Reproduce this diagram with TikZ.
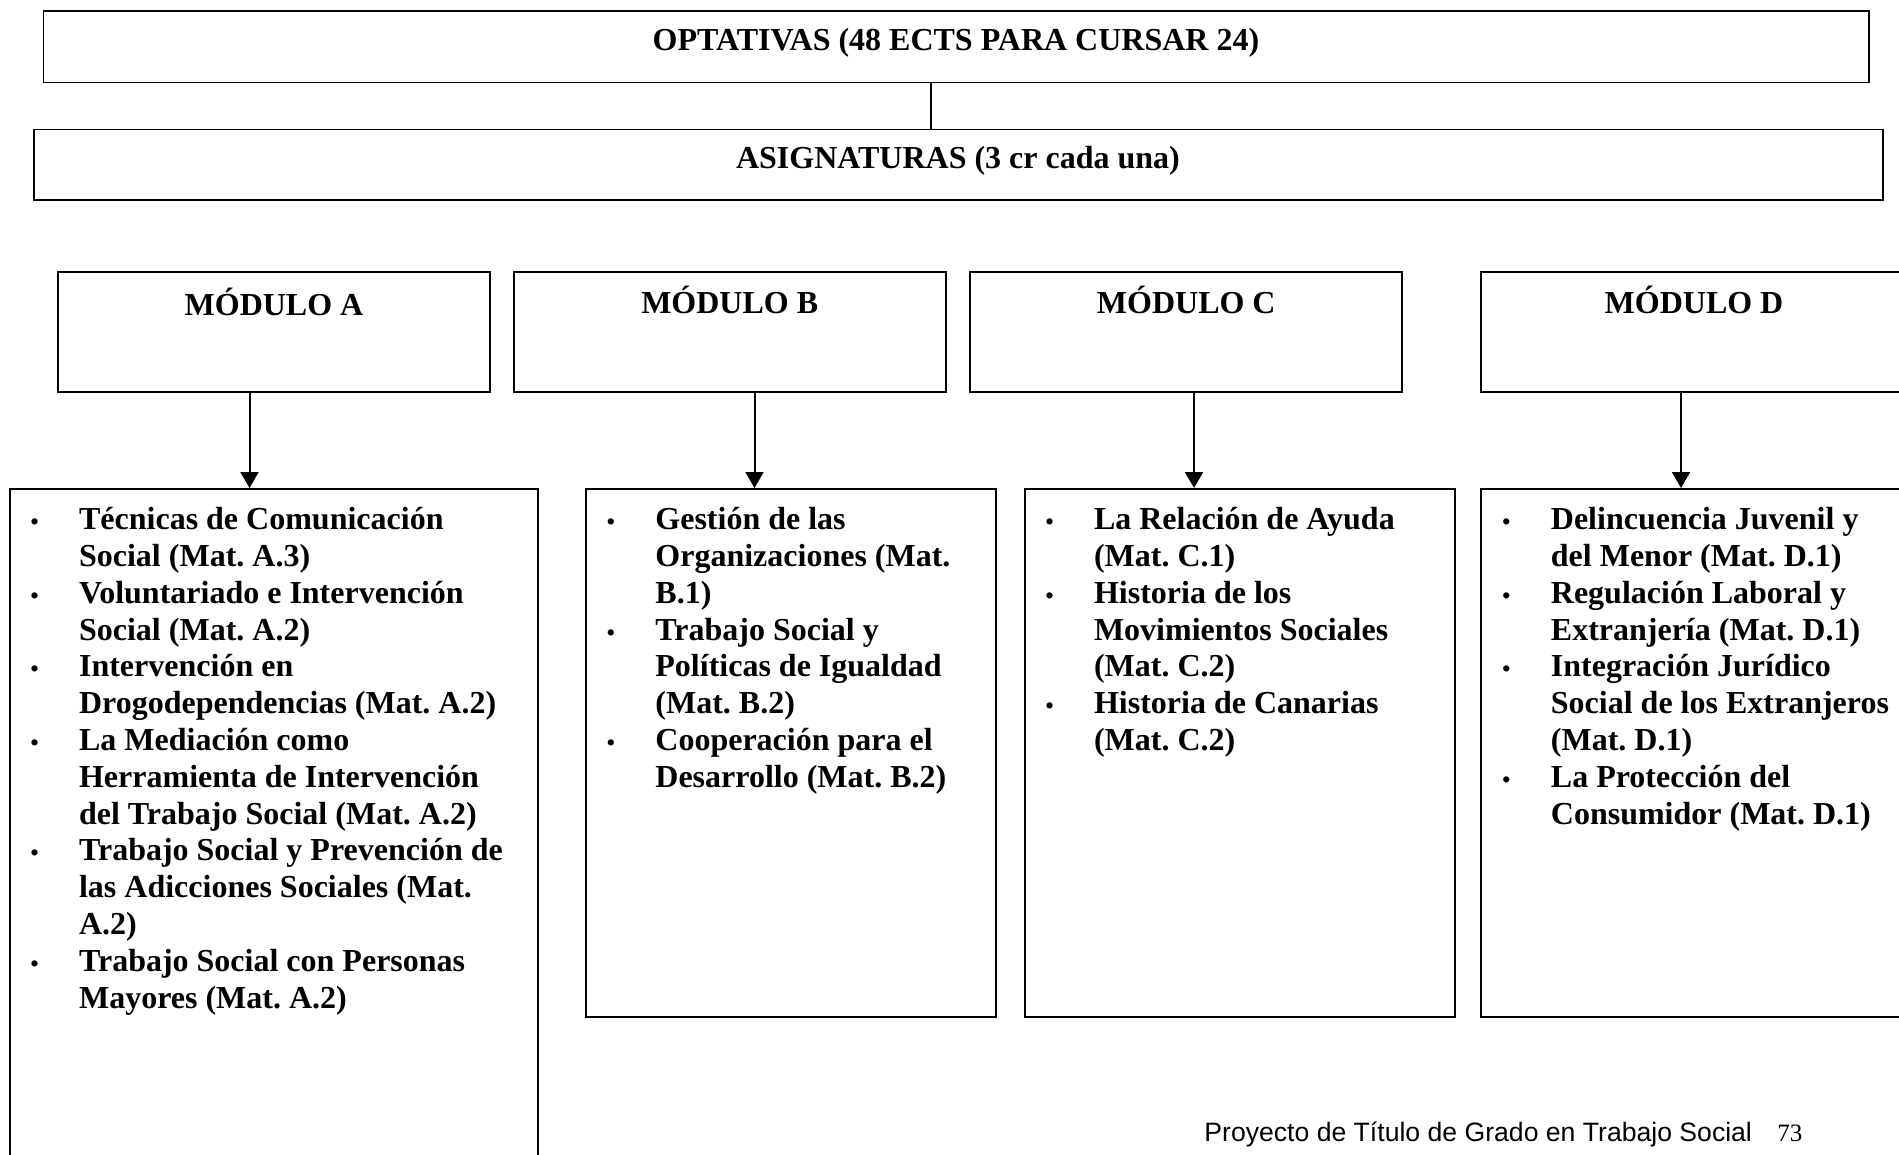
\documentclass[tikz,border=0pt]{standalone}
\usepackage{fontspec}
\setmainfont{Liberation Serif}
\newfontfamily\footsans{Liberation Sans}
\usetikzlibrary{arrows.meta}
\frenchspacing
\newcommand{\blt}{\makebox[22.75pt][l]{\hspace*{-1.5pt}{\fontsize{11.5pt}{11.5pt}\selectfont\raisebox{0pt}{\textbullet}}}}
\begin{document}
\begin{tikzpicture}[x=0.5pt,y=-0.5pt,
  box/.style={draw=black, line width=1pt, rectangle, inner sep=0pt},
  thinbox/.style={draw=black, line width=0.8pt, rectangle, inner sep=0pt},
  head/.style={inner sep=0pt, font=\fontsize{16pt}{18.4pt}\selectfont\bfseries\frenchspacing},
  listtext/.style={inner sep=0pt, align=left, font=\fontsize{16pt}{18.4pt}\selectfont\bfseries\frenchspacing},
  arr/.style={line width=1pt, -{Triangle[length=8pt,width=9pt]}},
  link/.style={line width=0.6pt}]
\clip (0,0) rectangle (1899,1155);
\fill[white] (0,0) rectangle (1899,1155);

% top boxes
\node[thinbox, minimum width=912.6pt, minimum height=35.75pt] (opt) at (956.2,46.65) {};
\node[thinbox, minimum width=924.55pt, minimum height=35.1pt] (asig) at (958.45,164.7) {};
\node[head, anchor=base] (tOpt) at (956,50.6) {OPTATIVAS (48 ECTS PARA CURSAR 24)};
\node[head, anchor=base] (tAsig) at (958,169) {ASIGNATURAS (3 cr cada una)};
\coordinate (c1) at (931,0);
\draw[link] (opt.south -| c1) -- (asig.north -| c1);

% module boxes
\node[box, minimum width=216pt, minimum height=60pt] (modA) at (274,332.45) {};
\node[box, minimum width=216.2pt, minimum height=60pt] (modB) at (729.7,332.45) {};
\node[box, minimum width=216.2pt, minimum height=60pt] (modC) at (1186.25,332.45) {};
\node[box, minimum width=216pt, minimum height=60pt] (modD) at (1697,332.45) {};
\node[head, anchor=base] (tA) at (274,315.6) {MÓDULO A};
\node[head, anchor=base] (tB) at (729.7,313.4) {MÓDULO B};
\node[head, anchor=base] (tC) at (1186.25,313.4) {MÓDULO C};
\node[head, anchor=base] (tD) at (1694,313.4) {MÓDULO D};

% list boxes
\node[box, minimum width=264pt, minimum height=340.5pt] (listA) at (273.7,829.5) {};
\node[box, minimum width=204.75pt, minimum height=264pt] (listB) at (790.75,753) {};
\node[box, minimum width=214.95pt, minimum height=264pt] (listC) at (1239.55,753) {};
\node[box, minimum width=219.5pt, minimum height=264pt] (listD) at (1700.5,753) {};

% arrows
\coordinate (aA) at (249.5,0);
\coordinate (aB) at (754.5,0);
\coordinate (aC) at (1194,0);
\coordinate (aD) at (1681,0);
\draw[arr] (modA.south -| aA) -- (listA.north -| aA);
\draw[arr] (modB.south -| aB) -- (listB.north -| aB);
\draw[arr] (modC.south -| aC) -- (listC.north -| aC);
\draw[arr] (modD.south -| aD) -- (listD.north -| aD);

% list texts
\node[listtext, anchor=base west] (txA) at (33.2,529.6) {\begin{tabular}[t]{@{}l@{}l@{}}
\blt & Técnicas de Comunicación\\
 & Social (Mat. A.3)\\
\blt & Voluntariado e Intervención\\
 & Social (Mat. A.2)\\
\blt & Intervención en\\
 & Drogodependencias (Mat. A.2)\\
\blt & La Mediación como\\
 & Herramienta de Intervención\\
 & del Trabajo Social (Mat. A.2)\\
\blt & Trabajo Social y Prevención de\\
 & las Adicciones Sociales (Mat.\\
 & A.2)\\
\blt & Trabajo Social con Personas\\
 & Mayores (Mat. A.2)
\end{tabular}};
\node[listtext, anchor=base west] (txB) at (609.5,529.6) {\begin{tabular}[t]{@{}l@{}l@{}}
\blt & Gestión de las\\
 & Organizaciones (Mat.\\
 & B.1)\\
\blt & Trabajo Social y\\
 & Políticas de Igualdad\\
 & (Mat. B.2)\\
\blt & Cooperación para el\\
 & Desarrollo (Mat. B.2)
\end{tabular}};
\node[listtext, anchor=base west] (txC) at (1048.1,529.6) {\begin{tabular}[t]{@{}l@{}l@{}}
\blt & La Relación de Ayuda\\
 & (Mat. C.1)\\
\blt & Historia de los\\
 & Movimientos Sociales\\
 & (Mat. C.2)\\
\blt & Historia de Canarias\\
 & (Mat. C.2)
\end{tabular}};
\node[listtext, anchor=base west] (txD) at (1505,529.6) {\begin{tabular}[t]{@{}l@{}l@{}}
\blt & Delincuencia Juvenil y\\
 & del Menor (Mat. D.1)\\
\blt & Regulación Laboral y\\
 & Extranjería (Mat. D.1)\\
\blt & Integración Jurídico\\
 & Social de los Extranjeros\\
 & (Mat. D.1)\\
\blt & La Protección del\\
 & Consumidor (Mat. D.1)
\end{tabular}};

% footer
\node[inner sep=0pt, anchor=base west, font=\footsans\fontsize{13.3pt}{15pt}\selectfont] (foot) at (1204,1141) {Proyecto de Título de Grado en Trabajo Social};
\node[inner sep=0pt, anchor=base west, font=\fontsize{12.5pt}{15pt}\selectfont] (page) at (1777,1141) {73};
\end{tikzpicture}
\end{document}
